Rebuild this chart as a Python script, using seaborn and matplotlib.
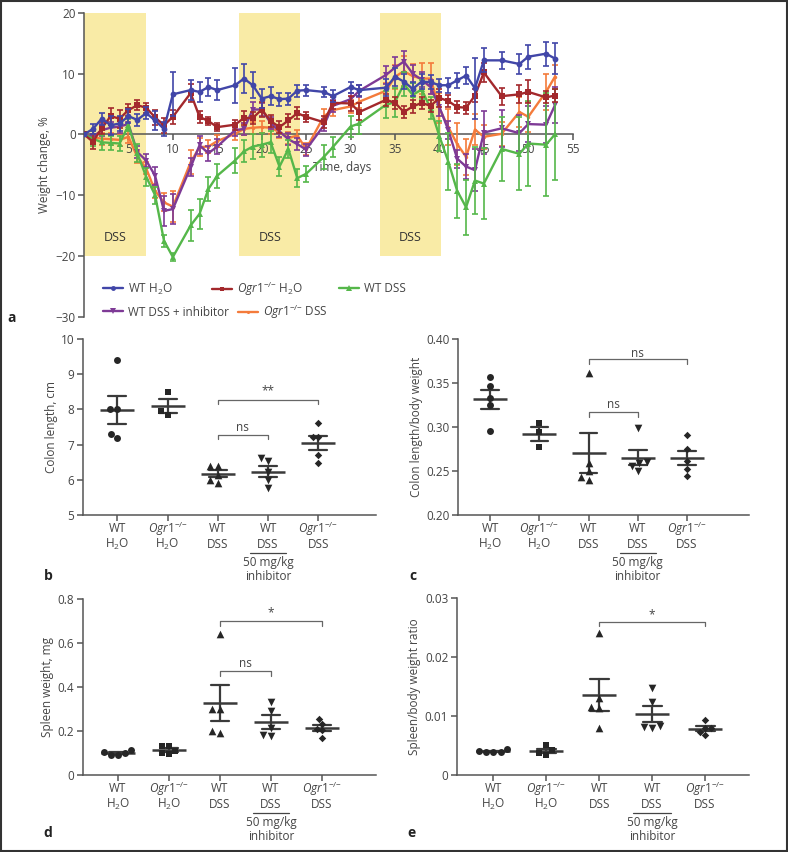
import matplotlib
matplotlib.use('Agg')
import matplotlib.pyplot as plt
from matplotlib.lines import Line2D
from matplotlib.patches import Rectangle
from matplotlib.transforms import offset_copy
import seaborn as sns
import pandas as pd
import numpy as np

# =============================================================================
# DATA
# =============================================================================

# a: weight change (%), mean and SEM per day
days = [0, 1, 2, 3, 4, 5, 6, 7, 8, 9, 10, 12, 13, 14, 15, 17, 18, 19, 20, 21, 22, 23,
        24, 25, 27, 28, 30, 31, 34, 35, 36, 37, 38, 39, 40, 41, 42, 43, 44, 45, 47, 49,
        50, 52, 53]

wt_h2o = [0, 0.9, 2.6, 1.5, 1.8, 3.0, 2.4, 3.5, 2.3, 0.9, 6.6,
          7.3, 7.0, 7.8, 7.3,
          8.1, 9.2, 8.1, 5.9, 6.3, 5.8, 5.9, 7.2, 7.3,
          7.0, 6.3, 7.8, 7.3,
          7.7, 9.5, 8.7, 7.5, 8.7, 8.6, 8.1, 8.1, 8.9, 9.7, 7.6, 12.2,
          12.2, 11.6, 12.8, 13.3, 12.5]
wt_h2o_sem = [0.3, 0.8, 1.0, 1.6, 1.2, 1.2, 1.0, 1.0, 1.6, 1.2, 3.6,
              1.7, 1.6, 1.5, 1.6,
              2.9, 2.4, 2.1, 1.5, 1.5, 1.1, 1.0, 1.0, 0.9,
              0.8, 1.0, 0.9, 0.9,
              1.4, 1.5, 1.2, 1.2, 1.2, 1.2, 1.1, 1.2, 1.2, 1.4, 5.0, 2.0,
              1.4, 1.6, 2.0, 2.0, 2.6]

ko_h2o = [0, -1.2, 1.0, 3.0, 2.6, 4.0, 4.8, 4.4, 2.8, 1.5, 2.9,
          6.8, 2.9, 2.2, 1.2,
          1.6, 2.7, 2.7, 4.1, 2.2, 1.2, 2.3, 3.5, 2.9,
          2.0, 5.2, 5.1, 3.7,
          5.7, 5.2, 3.7, 4.6, 5.2, 4.7, 6.0, 5.5, 4.5, 4.4, 6.4, 10.2,
          6.3, 6.6, 7.0, 6.1, 6.4]
ko_h2o_sem = [0.3, 1.2, 1.0, 1.4, 1.5, 1.0, 0.8, 0.8, 1.2, 1.2, 1.2,
              1.5, 1.0, 0.6, 0.6,
              0.8, 1.2, 1.0, 1.2, 1.0, 1.0, 1.0, 1.0, 0.8,
              1.0, 1.0, 1.2, 1.4,
              1.0, 1.0, 1.0, 1.0, 1.0, 1.0, 1.5, 1.0, 1.0, 1.0, 1.0, 1.6,
              1.4, 1.5, 1.9, 1.0, 1.0]

wt_dss = [0, -0.7, -1.3, -1.4, -1.5, 1.5, -3.1, -7.0, -10.0, -17.5, -20.2,
          -15.0, -13.1, -9.0, -6.8,
          -4.3, -2.8, -2.0, -1.7, -1.3, -5.3, -2.4, -7.2, -6.5,
          -3.7, -2.1, 1.3, 1.8,
          4.9, 5.3, 8.3, 6.5, 7.4, 4.3, -0.3, -4.5, -9.3, -12.0, -7.6, -8.1,
          -2.4, -3.2, -1.5, -1.7, 0.0]
wt_dss_sem = [0.3, 1.2, 1.2, 1.2, 1.3, 1.0, 1.5, 1.5, 1.4, 1.0, 0.7,
              2.5, 2.5, 2.0, 2.0,
              2.0, 1.8, 2.0, 2.0, 1.8, 1.5, 1.5, 1.5, 1.3,
              2.0, 1.6, 1.8, 1.8,
              2.2, 2.4, 2.0, 2.0, 1.5, 1.8, 2.5, 4.7, 4.5, 4.5, 5.5, 5.8,
              5.3, 6.0, 7.0, 8.5, 7.5]

wt_inh = [0, -0.4, 0.7, 1.1, 1.3, 1.7, -2.9, -4.3, -6.8, -12.6, -12.3,
          -5.4, -1.8, -3.1, -2.0,
          0.7, 0.9, 4.1, 4.1, 1.9, 0.5, -0.8, -1.6, -2.5,
          1.5, 4.7, 5.8, 7.2,
          9.8, 11.0, 12.0, 10.0, 9.0, 7.8, 4.5, 0.7, -4.0, -5.3, -5.9, 0.3,
          1.0, 0.2, 1.7, 1.6, 4.8]
wt_inh_sem = [0.3, 1.0, 1.0, 1.0, 1.0, 1.0, 1.0, 1.0, 1.5, 2.5, 2.5,
              1.5, 1.5, 1.2, 1.2,
              1.0, 1.0, 1.2, 1.0, 1.0, 1.0, 1.0, 1.0, 1.0,
              1.0, 1.0, 1.0, 1.0,
              1.5, 1.8, 1.8, 1.5, 1.2, 1.2, 1.5, 1.5, 1.5, 2.0, 3.5, 3.5,
              3.0, 3.0, 3.0, 3.0, 3.0]

ko_dss = [0, -0.5, -0.7, -0.8, -0.9, -0.4, -3.7, -5.6, -9.3, -11.2, -11.9,
          -4.6, -2.1, -2.0, -1.1,
          0.1, 0.9, 1.1, 1.2, 1.1, 0.4, -0.6, -0.2, -2.4,
          3.0, 4.0, 4.6, 5.4,
          7.2, 9.5, 10.4, 9.6, 9.2, 9.2, 4.3, 1.2, -1.6, -3.7, 0.8, -0.4,
          0.1, 3.7, 2.9, 7.0, 9.5]
ko_dss_sem = [0.3, 1.0, 1.0, 1.0, 1.0, 1.0, 1.0, 1.0, 1.2, 1.5, 2.5,
              2.0, 1.5, 1.0, 1.0,
              1.0, 1.0, 1.0, 1.0, 1.0, 1.0, 1.0, 1.0, 1.0,
              1.2, 1.0, 1.0, 1.0,
              1.2, 2.0, 2.5, 2.0, 2.5, 2.5, 2.5, 3.0, 3.5, 3.0, 2.5, 2.0,
              2.0, 2.5, 2.5, 3.0, 2.0]

dss_periods = [(0, 7), (17.5, 24.3), (33.3, 40.2)]

# b-e: individual animals per group
ko_label = '$\\mathit{Ogr1}^{-/{-}}$'
groups = ['WT H2O', 'Ogr1 H2O', 'WT DSS', 'WT DSS inh', 'Ogr1 DSS']
group_top = ['WT', ko_label, 'WT', 'WT', ko_label]
group_bottom = ['H$_2$O', 'H$_2$O', 'DSS', 'DSS', 'DSS']

colon_length = [[9.4, 8.0, 8.0, 7.2, 7.3],
                [8.5, 7.95, 7.85],
                [6.4, 6.4, 6.15, 6.0, 5.92],
                [6.61, 6.53, 6.23, 6.0, 5.78],
                [7.6, 7.22, 7.22, 6.7, 6.48]]
colon_ratio = [[0.356, 0.346, 0.333, 0.325, 0.295],
               [0.304, 0.294, 0.277],
               [0.361, 0.259, 0.25, 0.2427, 0.2396],
               [0.299, 0.2593, 0.2604, 0.2555, 0.250],
               [0.291, 0.275, 0.2615, 0.2517, 0.2442]]
spleen_weight = [[0.114, 0.104, 0.098, 0.092, 0.090],
                 [0.130, 0.132, 0.110, 0.100, 0.096],
                 [0.64, 0.30, 0.30, 0.19, 0.20],
                 [0.333, 0.292, 0.215, 0.177, 0.182],
                 [0.252, 0.232, 0.210, 0.205, 0.168]]
spleen_ratio = [[0.00395, 0.00435, 0.00407, 0.00395, 0.0039],
                [0.0051, 0.0042, 0.0038, 0.0034],
                [0.024, 0.013, 0.0116, 0.0114, 0.0079],
                [0.0147, 0.0123, 0.0079, 0.0083, 0.0082],
                [0.0094, 0.0079, 0.0068, 0.0073, 0.0079]]

# =============================================================================
# STYLE
# =============================================================================

sns.set_theme(style='ticks')
plt.rcParams['font.family'] = ['Open Sans', 'DejaVu Sans']
plt.rcParams.update({
    'mathtext.fontset': 'custom',
    'mathtext.rm': 'Open Sans',
    'mathtext.it': 'Open Sans:italic',
    'mathtext.bf': 'Open Sans:bold',
    'font.size': 8.5,
    'axes.labelsize': 8.5,
    'xtick.labelsize': 8.5,
    'ytick.labelsize': 8.5,
    'text.color': '#444444',
    'axes.labelcolor': '#444444',
    'xtick.color': '#555555',
    'ytick.color': '#555555',
    'xtick.labelcolor': '#444444',
    'ytick.labelcolor': '#444444',
    'axes.edgecolor': '#555555',
    'axes.linewidth': 1.1,
})

W, H = 788, 852
fig = plt.figure(figsize=(W / 100, H / 100), dpi=100)


def px_axes(left, top, right, bottom):
    """Axes placed by pixel edges of the 788x852 canvas."""
    return fig.add_axes([left / W, 1 - bottom / H, (right - left) / W, (bottom - top) / H])


def below_axis(ax, px):
    """x in data, y a fixed number of pixels under the x axis."""
    return offset_copy(ax.get_xaxis_transform(), fig=fig, y=-px, units='dots')


# =============================================================================
# a: WEIGHT CURVES
# =============================================================================

ax = px_axes(84, 13, 572.7, 316.5)
for x0, x1 in dss_periods:
    ax.axvspan(x0, x1, ymin=0.2, ymax=1.0, color='#F9EBA6', lw=0, zorder=0)
    ax.text((x0 + x1) / 2, -17, 'DSS', ha='center', va='center', fontsize=9, color='#333333')

series = [
    (ko_dss, ko_dss_sem, '#F47B3B', 'o', 2.5),
    (wt_inh, wt_inh_sem, '#7E3A96', 'v', 4.5),
    (wt_dss, wt_dss_sem, '#55B74A', '^', 4.5),
    (ko_h2o, ko_h2o_sem, '#A3282C', 's', 3.8),
    (wt_h2o, wt_h2o_sem, '#4146A8', 'o', 4.2),
]
for vals, errs, color, marker, ms in series:
    df = pd.DataFrame({'day': days, 'change': vals})
    sns.lineplot(data=df, x='day', y='change', color=color, marker=marker, markersize=ms,
                 markeredgecolor=color, markeredgewidth=0, linewidth=1.7, ax=ax, zorder=3)
    ax.errorbar(days, vals, yerr=errs, fmt='none', ecolor=color, elinewidth=1.2,
                capsize=2.3, capthick=1.2, zorder=3)

ax.set_xlim(0, 55)
ax.set_ylim(-30, 20)
sns.despine(ax=ax)
ax.spines['bottom'].set_position(('data', 0))
ax.set_xticks(range(5, 56, 5))
ax.set_yticks(range(-30, 21, 10))
ax.tick_params(length=4, width=1.1, pad=2)
ax.set_xlabel('Time, days')
ax.xaxis.set_label_coords(0.528, 0.512)
ax.set_ylabel('Weight change, %')
ax.yaxis.set_label_coords(-0.0675, 0.5)

# legend, one entry at a time so each sits where the original has it
legend_items = [
    ('#4146A8', 'o', 3.5, 'WT H$_2$O', 103, 289),
    ('#A3282C', 's', 3.5, ko_label + ' H$_2$O', 212, 289),
    ('#55B74A', '^', 3.8, 'WT DSS', 339, 289),
    ('#7E3A96', 'v', 3.8, 'WT DSS + inhibitor', 103, 312),
    ('#F47B3B', 'o', 2.2, ko_label + ' DSS', 238, 312),
]
for color, marker, ms, text, x, y in legend_items:
    h = Line2D([], [], color=color, marker=marker, markersize=ms, lw=1.7, markeredgewidth=0)
    fig.legend([h], [text], loc='center left', bbox_to_anchor=(x / W, 1 - y / H),
               frameon=False, borderpad=0, borderaxespad=0, handlelength=1.7,
               handletextpad=0.45, fontsize=8.5)

# =============================================================================
# b-e: SCATTER WITH MEAN +/- SEM
# =============================================================================

markers = ['o', 's', '^', 'v', 'D']
sizes = [5, 5, 5.5, 5.5, 3.8]


def scatter_panel(rect, values, ylim, yticks, yticklabels, ylabel, label_x, xlim, brackets):
    ax = px_axes(*rect)
    df = pd.DataFrame({'group': np.repeat(groups, [len(v) for v in values]),
                       'value': np.concatenate(values)})
    for g, m, s in zip(groups, markers, sizes):
        sns.swarmplot(data=df[df['group'] == g], x='group', y='value', order=groups,
                      marker=m, size=s, color='#262626', linewidth=0, ax=ax)
    sns.pointplot(data=df, x='group', y='value', order=groups, errorbar='se', capsize=0.36,
                  marker='_', markersize=24, markeredgewidth=1.8, linestyle='none',
                  color='#3a3a3a', err_kws={'linewidth': 1.6}, ax=ax)

    for x1, x2, y, drop, text, ty in brackets:
        ax.plot([x1, x1, x2, x2], [y - drop, y, y, y - drop], color='#666666', lw=0.9)
        ax.text((x1 + x2) / 2, ty, text, ha='center', va='center', fontsize=8.5)

    ax.set_xlim(*xlim)
    ax.set_ylim(*ylim)
    ax.set_xticks(range(len(groups)))
    ax.set_xticklabels([])
    ax.set_yticks(yticks)
    ax.set_yticklabels(yticklabels)
    ax.set_xlabel('')
    ax.set_ylabel(ylabel)
    ax.yaxis.set_label_coords(label_x, 0.5)
    ax.tick_params(length=4, width=1.1, pad=2)
    sns.despine(ax=ax)

    # two-line category labels, both lines on fixed baselines
    for i, (top, bottom) in enumerate(zip(group_top, group_bottom)):
        ax.text(i, 0, top, transform=below_axis(ax, 17.5), ha='center', va='baseline')
        ax.text(i, 0, bottom, transform=below_axis(ax, 32.5), ha='center', va='baseline')

    # dose note under the inhibitor group
    ax.plot([2.64, 3.36], [0, 0], transform=below_axis(ax, 38), color='#444444', lw=0.9,
            clip_on=False)
    ax.text(3, 0, '50 mg/kg', transform=below_axis(ax, 51), ha='center', va='baseline')
    ax.text(3, 0, 'inhibitor', transform=below_axis(ax, 64.5), ha='center', va='baseline')
    return ax


scatter_panel((82.7, 339, 376, 515), colon_length, (5, 10), [5, 6, 7, 8, 9, 10],
              ['5', '6', '7', '8', '9', '10'], 'Colon length, cm', -0.085, (-0.69, 5.15),
              [(2, 4, 8.28, 0.12, '**', 8.53), (2, 3, 7.27, 0.12, 'ns', 7.49)])
scatter_panel((457.7, 338.5, 749, 515), colon_ratio, (0.20, 0.40),
              [0.20, 0.25, 0.30, 0.35, 0.40], ['0.20', '0.25', '0.30', '0.35', '0.40'],
              'Colon length/body weight', -0.12, (-0.66, 5.26),
              [(2, 4, 0.3765, 0.0055, 'ns', 0.3826), (2, 3, 0.317, 0.0063, 'ns', 0.3247)])
scatter_panel((82.7, 598.5, 376, 775), spleen_weight, (0, 0.8), [0, 0.2, 0.4, 0.6, 0.8],
              ['0', '0.2', '0.4', '0.6', '0.8'], 'Spleen weight, mg', -0.097, (-0.69, 5.06),
              [(2, 4, 0.697, 0.02, '*', 0.733), (2, 3, 0.47, 0.023, 'ns', 0.505)])
scatter_panel((456.7, 598, 749, 775), spleen_ratio, (0, 0.03), [0, 0.01, 0.02, 0.03],
              ['0', '0.01', '0.02', '0.03'], 'Spleen/body weight ratio', -0.122, (-0.69, 4.83),
              [(2, 4, 0.02598, 0.0007, '*', 0.0272)])

# panel letters
for letter, x, y in [('a', 12, 318), ('b', 48, 576), ('c', 413, 576), ('d', 48, 833), ('e', 412, 833)]:
    fig.text(x / W, 1 - y / H, letter, fontweight='bold', fontsize=10, ha='center',
             va='center', color='#222222')

# frame round the whole figure
fig.add_artist(Rectangle((0.0015, 0.0015), 0.997, 0.997, transform=fig.transFigure,
                         fill=False, edgecolor='#333333', lw=1.5))

fig.savefig('out.png', dpi=100)
